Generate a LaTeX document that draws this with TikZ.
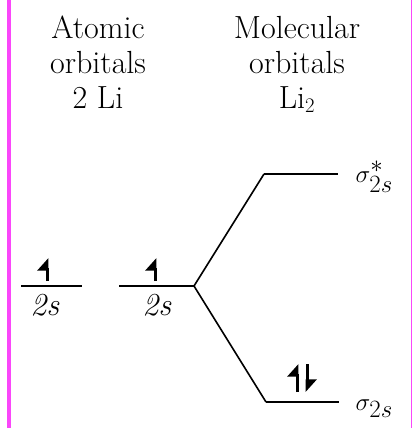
\documentclass[tikz,border=0pt]{standalone}
\usepackage{amsmath}
\usepackage{xcolor}
\usetikzlibrary{arrows.meta, positioning, calc}
\definecolor{FrameMagenta}{RGB}{250, 70, 250}

\begin{document}
\begin{tikzpicture}[x=1pt, y=-1pt, font=\fontsize{32}{35}\selectfont,
    level/.style={line width=2.8pt},
    link/.style={line width=1.6pt},
    spin/.style={line width=3pt, -{Triangle[left, length=11pt, width=19pt]}},
    mo/.style={anchor=base west, font=\fontsize{36}{40}\selectfont}]
    \useasboundingbox (0,0) rectangle (412,428);

    % frame bars
    \fill[FrameMagenta] (7,0) rectangle (11,428);
    \fill[FrameMagenta] (410.5,0) rectangle (411.5,428);

    % headings
    \node[anchor=base, align=center] (aohead) at (98,108) {Atomic\\orbitals\\2 Li};
    \node[anchor=base, align=center] (mohead) at (297,108) {Molecular\\orbitals\\Li$_2$};

    % 1. atomic levels
    \coordinate (aA-w) at (21,286);  \coordinate (aA-e) at (82,286);
    \coordinate (aB-w) at (119,286); \coordinate (aB-e) at (194,286);
    \draw[level] (aA-w) -- (aA-e);
    \draw[level] (aB-w) -- (aB-e);
    \node[anchor=base] (aAlab) at (45,315) {\textit{2s}};
    \node[anchor=base] (aBlab) at (157,315) {\textit{2s}};

    % 2. molecular levels
    \coordinate (anti-w) at (264,174); \coordinate (anti-e) at (338,174);
    \coordinate (bond-w) at (266,402); \coordinate (bond-e) at (339,402);
    \draw[level] (anti-w) -- (anti-e);
    \draw[level] (bond-w) -- (bond-e);
    \node[mo] (antilab) at (352,182) {$\sigma^{*}_{2s}$};
    \node[mo] (bondlab) at (352,410) {$\sigma_{2s}$};

    % 3. correlation lines
    \draw[link] (aB-e) -- (anti-w);
    \draw[link] (aB-e) -- (bond-w);

    % 4. electrons
    \draw[spin] (47,281) -- (47,258);
    \draw[spin] (155,281) -- (155,258);
    \draw[spin] (297,392) -- (297,364);
    \draw[spin] (307,364) -- (307,392);
\end{tikzpicture}
\end{document}
